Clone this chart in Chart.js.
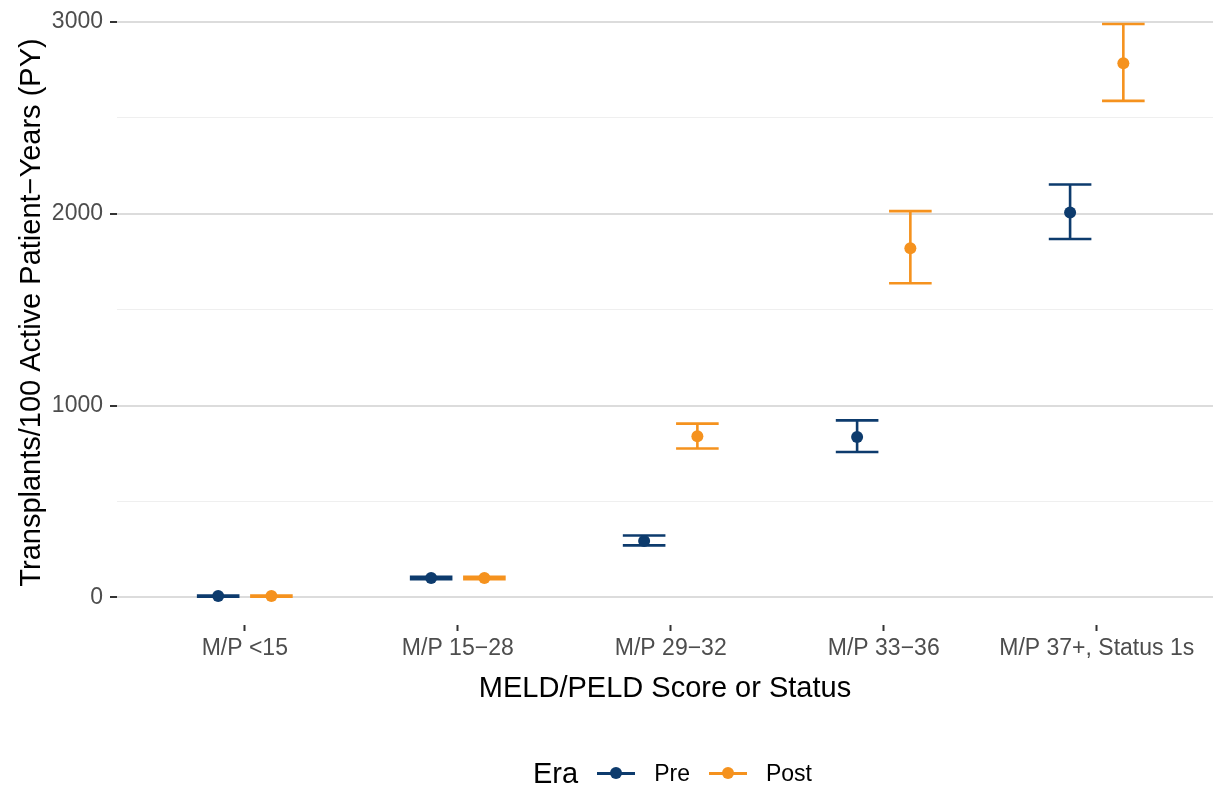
<!DOCTYPE html>
<html>
<head>
<meta charset="utf-8">
<script src="https://cdn.jsdelivr.net/npm/chart.js@4/dist/chart.umd.min.js"></script>
<style>
  html, body { margin: 0; padding: 0; background: #fff; }
  #wrap { position: relative; width: 1213px; height: 786px; font-family: "Liberation Sans", Arial, sans-serif; }
  #legend { position: absolute; left: 533px; top: 755px; height: 36px; display: flex; align-items: center; }
  .ttl { font-size: 29px; color: #000; margin-right: 19px; }
  .key { position: relative; width: 38px; height: 36px; margin-right: 19px; }
  .key .ln { position: absolute; left: 0; right: 0; top: 17px; height: 2.5px; }
  .key .dt { position: absolute; left: 13px; top: 12px; width: 12px; height: 12px; border-radius: 50%; }
  .lab { font-size: 23px; color: #000; margin-right: 19px; }
</style>
</head>
<body>
<div id="wrap">
  <canvas id="c" width="1213" height="786"></canvas>
  <div id="legend"></div>
</div>
<script>
// ---- data ----
const categories = ['M/P <15', 'M/P 15\u221228', 'M/P 29\u221232', 'M/P 33\u221236', 'M/P 37+, Status 1s'];
const eras = ['Pre', 'Post'];
const preMean  = [7, 101, 294, 836, 2007];
const preLow   = [4, 95, 271, 758, 1869];
const preHigh  = [10, 107, 323, 923, 2153];
const postMean = [7, 101, 840, 1821, 2785];
const postLow  = [4, 95, 776, 1638, 2589];
const postHigh = [10, 107, 906, 2014, 2990];
const yTicks = [0, 500, 1000, 1500, 2000, 2500, 3000];

// ---- style ----
const colors = { Pre: '#0d3b6d', Post: '#f5921e' };
const DODGE = 0.125;
const CAP = 0.1;

function buildDataset(label, means, lows, highs, offset) {
  return {
    label,
    data: means.map((m, i) => ({ x: i + offset, y: m, lo: lows[i], hi: highs[i] })),
    backgroundColor: colors[label],
    borderColor: colors[label],
    pointRadius: 6,
    pointBorderWidth: 0,
    showLine: false
  };
}

const errorBars = {
  id: 'errorBars',
  beforeDatasetsDraw(chart) {
    const { ctx, scales: { x, y } } = chart;
    ctx.save();
    chart.data.datasets.forEach(ds => {
      ctx.strokeStyle = ds.borderColor;
      ctx.lineWidth = 2.6;
      ds.data.forEach(p => {
        const px = x.getPixelForValue(p.x);
        const xl = x.getPixelForValue(p.x - CAP);
        const xr = x.getPixelForValue(p.x + CAP);
        const yl = y.getPixelForValue(p.lo);
        const yh = y.getPixelForValue(p.hi);
        ctx.beginPath();
        ctx.moveTo(px, yl); ctx.lineTo(px, yh);
        ctx.moveTo(xl, yl); ctx.lineTo(xr, yl);
        ctx.moveTo(xl, yh); ctx.lineTo(xr, yh);
        ctx.stroke();
      });
    });
    ctx.restore();
  }
};

const FONT = '"Liberation Sans", Arial, sans-serif';
function zeroPad(s) { s.paddingTop = 0; s.paddingBottom = 0; s.paddingLeft = 0; s.paddingRight = 0; }

new Chart(document.getElementById('c'), {
  type: 'scatter',
  data: {
    datasets: [
      buildDataset('Pre', preMean, preLow, preHigh, -DODGE),
      buildDataset('Post', postMean, postLow, postHigh, DODGE)
    ]
  },
  plugins: [errorBars],
  options: {
    responsive: false,
    animation: false,
    layout: { autoPadding: false, padding: { top: 0, right: 0, bottom: 80, left: 0 } },
    plugins: { legend: { display: false }, tooltip: { enabled: false } },
    scales: {
      x: {
        type: 'linear',
        min: -0.6,
        max: 4.546,
        afterBuildTicks: s => { s.ticks = categories.map((c, i) => ({ value: i })); },
        afterFit: s => { s.height = 81; zeroPad(s); },
        border: { display: false },
        grid: { color: 'rgba(0,0,0,0)', drawTicks: true, tickLength: 6, tickColor: '#333333', tickWidth: 2 },
        ticks: {
          callback: v => categories[v],
          font: { family: FONT, size: 23 },
          color: '#4d4d4d',
          padding: 4,
          maxRotation: 0,
          autoSkip: false
        },
        title: {
          display: true,
          text: 'MELD/PELD Score or Status',
          font: { family: FONT, size: 29 },
          color: '#000',
          padding: { top: 0, bottom: 0 }
        }
      },
      y: {
        min: -144,
        max: 3115,
        afterBuildTicks: s => { s.ticks = yTicks.map(v => ({ value: v })); },
        afterFit: s => { s.width = 117; zeroPad(s); },
        border: { display: false },
        grid: {
          color: c => (c.tick && c.tick.value % 1000 === 0) ? '#dcdcdc' : '#efefef',
          lineWidth: c => (c.tick && c.tick.value % 1000 === 0) ? 2 : 1,
          tickColor: c => (c.tick && c.tick.value % 1000 === 0) ? '#333333' : 'rgba(0,0,0,0)',
          tickLength: 7,
          tickWidth: 2
        },
        ticks: {
          callback: v => (v % 1000 === 0 ? String(v) : ''),
          font: { family: FONT, size: 23 },
          color: '#4d4d4d',
          padding: 7
        },
        title: {
          display: true,
          text: 'Transplants/100 Active Patient\u2212Years (PY)',
          font: { family: FONT, size: 29 },
          color: '#000',
          padding: { top: 15, bottom: 0 }
        }
      }
    }
  }
});

// HTML legend built from the era list
const leg = document.getElementById('legend');
leg.innerHTML = '<span class="ttl">Era</span>' + eras.map(e =>
  '<span class="key"><span class="ln" style="background:' + colors[e] + '"></span>' +
  '<span class="dt" style="background:' + colors[e] + '"></span></span>' +
  '<span class="lab">' + e + '</span>').join('');
</script>
</body>
</html>
